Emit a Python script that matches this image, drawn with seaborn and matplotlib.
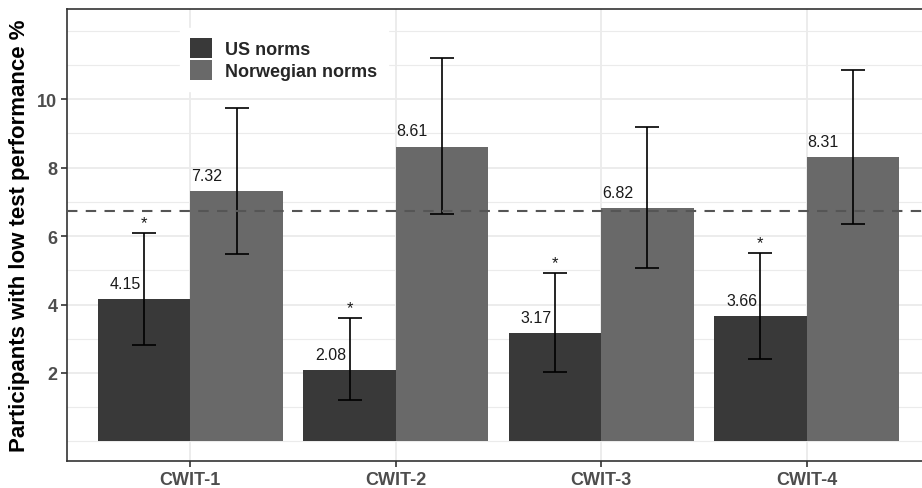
import numpy as np
import pandas as pd
import matplotlib
matplotlib.use("Agg")
import matplotlib.pyplot as plt
import seaborn as sns

categories = ["CWIT-1", "CWIT-2", "CWIT-3", "CWIT-4"]
groups = ["US norms", "Norwegian norms"]
us_values = [4.15, 2.08, 3.17, 3.66]
nor_values = [7.32, 8.61, 6.82, 8.31]
us_low = [2.82, 1.20, 2.04, 2.42]
us_high = [6.10, 3.60, 4.92, 5.51]
nor_low = [5.48, 6.64, 5.07, 6.34]
nor_high = [9.74, 11.19, 9.18, 10.85]
significant_us = [True, True, True, True]
reference_line = 6.72
yticks = [2, 4, 6, 8, 10]

sns.set_theme(style="white")
plt.rcParams["font.family"] = ["Liberation Sans", "DejaVu Sans"]

df = pd.DataFrame({
    "test": categories * 2,
    "norm": [groups[0]] * 4 + [groups[1]] * 4,
    "value": us_values + nor_values,
})

fig = plt.figure(figsize=(9.22, 4.89), dpi=100)
ax = fig.add_axes([67 / 922, 1 - 462 / 489, (930 - 67) / 922, (462 - 10) / 489])

# grid lines
for y in range(0, 13):
    ax.axhline(y, color="#ebebeb", lw=1.3 if y in yticks else 0.8, zorder=0)
for x in range(len(categories)):
    ax.axvline(x, color="#ebebeb", lw=1.3, zorder=0)

sns.barplot(data=df, x="test", y="value", hue="norm", order=categories,
            hue_order=groups, palette=["#393939", "#696969"], width=0.9,
            saturation=1, ax=ax, zorder=2, linewidth=0, errorbar=None)

lows = [us_low, nor_low]
highs = [us_high, nor_high]
vals = [us_values, nor_values]
label_dx = [-0.09, -0.145]
bar_containers = list(ax.containers)
for gi, cont in enumerate(bar_containers):
    for bi, patch in enumerate(cont.patches):
        xc = patch.get_x() + patch.get_width() / 2
        v = vals[gi][bi]
        lo, hi = lows[gi][bi], highs[gi][bi]
        ax.errorbar([xc], [v], yerr=[[v - lo], [hi - v]], fmt="none",
                    ecolor="black", elinewidth=1.2, capsize=8.7, capthick=1.2, zorder=3)
        ax.text(xc + label_dx[gi], v + 0.46, f"{v:.2f}", ha="center", va="center",
                fontsize=11.5, color="#1a1a1a", zorder=4)
        if gi == 0 and significant_us[bi]:
            ax.text(xc, hi + 0.08, "*", ha="center", va="bottom",
                    fontsize=12, color="#1a1a1a", zorder=4)

ax.axhline(reference_line, color="#555555", lw=1.5, ls=(0, (5, 4)), zorder=5)

ax.set_xlim(-0.6, 3.6)
ax.set_ylim(-0.57, 12.63)
ax.set_yticks(yticks)
ax.set_yticklabels([str(t) for t in yticks], fontweight="bold", fontsize=13, color="#4d4d4d")
ax.set_xticks(range(len(categories)))
ax.set_xticklabels(categories, fontweight="bold", fontsize=13, color="#4d4d4d")
ax.tick_params(axis="both", length=4, width=1.2, color="#333333", bottom=True, left=True, pad=3)
ax.set_xlabel("")
ax.set_ylabel("Participants with low test performance %", fontsize=16,
              fontweight="bold", color="black", labelpad=5)
for s in ax.spines.values():
    s.set_color("#333333")
    s.set_linewidth(1.2)

leg = ax.legend(title=None, loc="upper left", bbox_to_anchor=(0.12, 0.979),
                frameon=True, fancybox=False, framealpha=1, edgecolor="white",
                prop={"weight": "bold", "size": 13}, handlelength=1.2,
                handleheight=1.3, labelspacing=0.1, borderpad=0.6, handletextpad=0.7)
leg.set_zorder(6)

fig.savefig("out.png", dpi=100)
